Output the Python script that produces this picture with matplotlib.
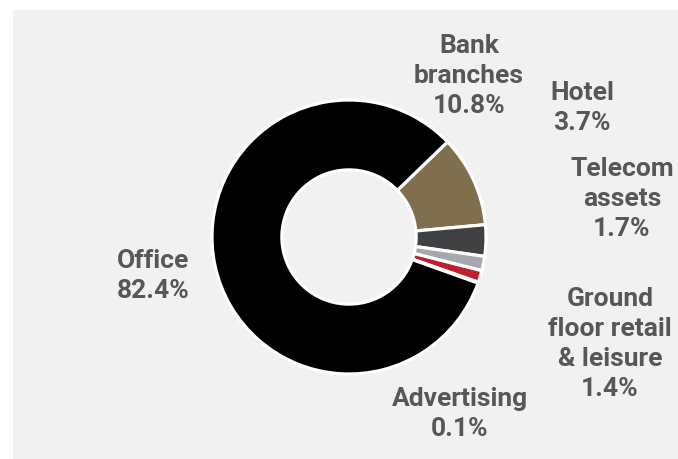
import matplotlib
matplotlib.use("Agg")
import matplotlib.pyplot as plt
from matplotlib.patches import Rectangle

# Data (clockwise from Bank branches)
categories = ["Bank\nbranches", "Hotel", "Telecom\nassets", "Ground\nfloor retail\n& leisure", "Advertising", "Office"]
values = [10.8, 3.7, 1.7, 1.4, 0.1, 82.4]
colors = ["#7f6f4f", "#414143", "#a7a8ac", "#be1e2d", "#1a1a1a", "#000000"]

# label placement (pixel centres in a 678x459 canvas)
label_pos = [(469, 76), (582, 108), (622, 199), (610, 344), (460, 414), (153, 276)]

W, H = 678, 459
fig = plt.figure(figsize=(W / 100, H / 100), dpi=100)
fig.patch.set_facecolor("white")
fig.patches.append(Rectangle((13 / W, 0), 1 - 13 / W, (H - 10) / H,
                             transform=fig.transFigure, facecolor="#f1f1f1",
                             edgecolor="none", zorder=-10))

cx, cy, r = 349, 237, 137
ax = fig.add_axes([(cx - r) / W, (H - cy - r) / H, 2 * r / W, 2 * r / H])
ax.set_zorder(5)
ax.set_facecolor("none")
ax.pie(values, colors=colors, startangle=44, counterclock=False, radius=1,
       wedgeprops=dict(width=0.51, edgecolor="white", linewidth=2.3))
ax.set_xlim(-1, 1)
ax.set_ylim(-1, 1)
ax.set_aspect("equal")
ax.axis("off")

for cat, val, (px, py) in zip(categories, values, label_pos):
    fig.text(px / W, 1 - py / H, f"{cat}\n{val:.1f}%", ha="center", va="center",
             fontsize=19, fontweight="bold", color="#575757",
             family=["Roboto", "DejaVu Sans"], linespacing=1.3, zorder=10)

fig.savefig("out.png", dpi=100, facecolor=fig.get_facecolor())
